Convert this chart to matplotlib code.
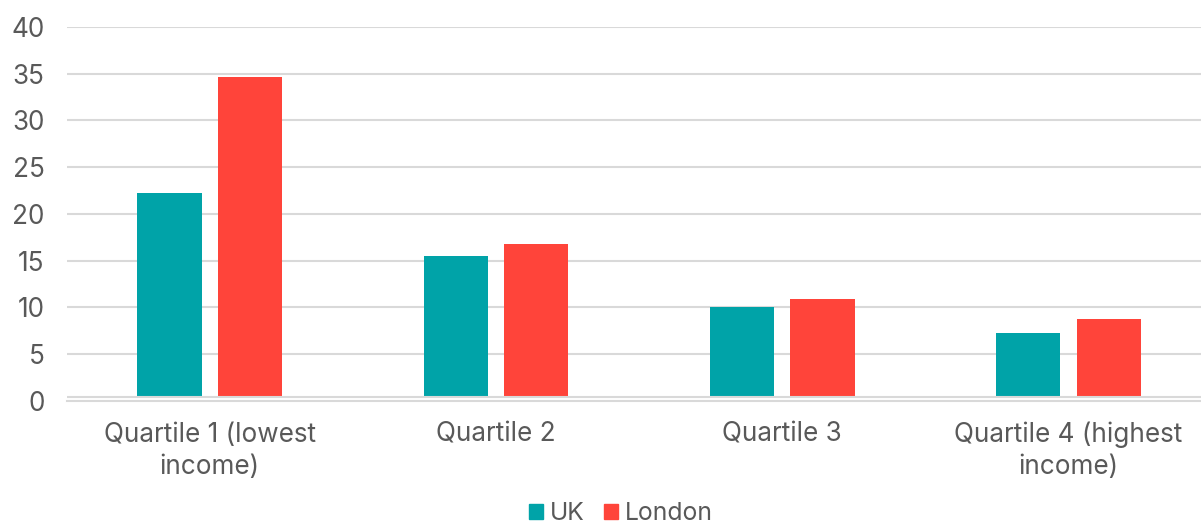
import matplotlib.pyplot as plt
from matplotlib.patches import Patch
import numpy as np

plt.rcParams['font.family'] = ['Inter', 'DejaVu Sans']

categories = ["Quartile 1 (lowest\nincome)", "Quartile 2", "Quartile 3", "Quartile 4 (highest\nincome)"]
uk = [22.2, 15.5, 10.0, 7.2]
london = [34.6, 16.8, 10.9, 8.7]
yticks = [0, 5, 10, 15, 20, 25, 30, 35, 40]

teal = '#00A3A8'
red = '#FF443A'
grey_txt = '#595959'
grid_c = '#D9D9D9'

fig = plt.figure(figsize=(12.01, 5.27), dpi=100)
# axes run a bit past the right edge of the figure
ax = fig.add_axes([66.7 / 1201, 1 - 400.7 / 527, 1144.8 / 1201, 373.7 / 527])

x = np.arange(len(categories))
w = 0.224
ax.bar(x - 0.141, uk, w, color=teal, zorder=2, label='UK')
ax.bar(x + 0.141, london, w, color=red, zorder=2, label='London')

ax.set_xlim(-0.5, len(categories) - 0.5)
ax.set_ylim(0, 40)
ax.set_yticks(yticks)
ax.yaxis.grid(True, color=grid_c, linewidth=1.5, zorder=0)
ax.set_axisbelow(True)

# double line at the base of the bars
ax.axhspan(0, 0.43, color='white', zorder=3, linewidth=0)
ax.axhline(0.43, color=grid_c, linewidth=1.5, zorder=4)
ax.axhline(0, color=grid_c, linewidth=1.5, zorder=4, clip_on=False)

for s in ax.spines.values():
    s.set_visible(False)

fs = 18.8
ax.tick_params(axis='y', length=0, pad=16, labelsize=fs, labelcolor=grey_txt)
ax.tick_params(axis='x', length=0, pad=15, labelsize=fs, labelcolor=grey_txt)
ax.set_xticks(x)
ax.set_xticklabels(categories, linespacing=1.3)

handles = [Patch(color=teal, label='UK'), Patch(color=red, label='London')]
fig.legend(handles=handles, loc='center', bbox_to_anchor=(621 / 1201, 1 - 514 / 527),
           ncol=2, frameon=False, fontsize=17.8, labelcolor=grey_txt,
           handlelength=0.57, handleheight=0.57, handletextpad=0.28, columnspacing=0.8,
           borderpad=0.2)

fig.savefig('out.png', dpi=100)
